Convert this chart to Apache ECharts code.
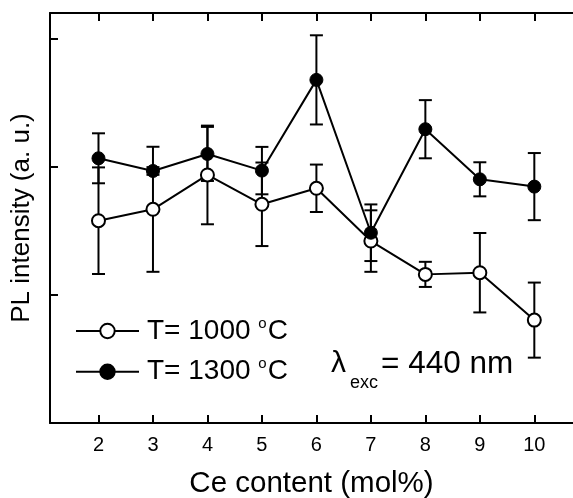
<!DOCTYPE html>
<html>
<head>
<meta charset="utf-8">
<script src="https://cdn.jsdelivr.net/npm/echarts@6/dist/echarts.min.js"></script>
<style>
html,body{margin:0;padding:0;background:#fff;}
#chart{width:573px;height:498px;}
</style>
</head>
<body>
<div id="chart"></div>
<script>
const ceContent = [2, 3, 4, 5, 6, 7, 8, 9, 10];
const xTickValues = [2, 3, 4, 5, 6, 7, 8, 9, 10];
const yTickValues = [0, 1, 2, 3];
const seriesNames = ['T= 1000 °C', 'T= 1300 °C'];
const pl1000 = [1.579, 1.668, 1.936, 1.707, 1.832, 1.420, 1.160, 1.173, 0.803];
const pl1000Err = [0.416, 0.488, 0.385, 0.326, 0.185, 0.240, 0.098, 0.310, 0.293];
const pl1300 = [2.066, 1.967, 2.100, 1.970, 2.678, 1.485, 2.293, 1.902, 1.845];
const pl1300Err = [0.195, 0.03, 0.211, 0.185, 0.348, 0.221, 0.227, 0.133, 0.262];

const FONT = '"Liberation Sans", Arial, sans-serif';

function pairs(xs, ys) { return xs.map((x, i) => [x, ys[i]]); }
function errData(xs, ys, es) { return xs.map((x, i) => [x, ys[i] - es[i], ys[i] + es[i]]); }

function renderErr(params, api) {
  const x = api.value(0), lo = api.value(1), hi = api.value(2);
  const pt = api.coord([x, hi]);
  const pb = api.coord([x, lo]);
  const hw = 6.5;
  const st = { stroke: '#000', lineWidth: 2 };
  return {
    type: 'group',
    children: [
      { type: 'line', shape: { x1: pt[0], y1: pt[1], x2: pb[0], y2: pb[1] }, style: st },
      { type: 'line', shape: { x1: pt[0] - hw, y1: pt[1], x2: pt[0] + hw, y2: pt[1] }, style: st },
      { type: 'line', shape: { x1: pb[0] - hw, y1: pb[1], x2: pb[0] + hw, y2: pb[1] }, style: st }
    ]
  };
}

const chart = echarts.init(document.getElementById('chart'), null, { renderer: 'canvas' });

const xCommon = {
  type: 'value',
  min: 1.11,
  max: 10.71,
  splitLine: { show: false },
  axisLine: { show: true, lineStyle: { color: '#000', width: 2 } }
};

chart.setOption({
  animation: false,
  backgroundColor: '#fff',
  grid: { left: 50, right: 0, top: 13, bottom: 75, containLabel: false, outerBoundsMode: 'none' },
  xAxis: [
    Object.assign({}, xCommon, {
      position: 'bottom',
      name: 'Ce content (mol%)',
      nameLocation: 'middle',
      nameGap: 46,
      nameTextStyle: { fontFamily: FONT, fontSize: 29.5, color: '#000' },
      axisTick: { show: true, inside: true, length: 8, customValues: xTickValues, lineStyle: { color: '#000', width: 2 } },
      axisLabel: { show: true, customValues: xTickValues, margin: 12, fontFamily: FONT, fontSize: 20, color: '#000' }
    }),
    Object.assign({}, xCommon, {
      position: 'top',
      axisTick: { show: true, inside: true, length: 8, customValues: xTickValues, lineStyle: { color: '#000', width: 2 } },
      axisLabel: { show: false }
    })
  ],
  yAxis: {
    type: 'value',
    min: 0,
    max: 3.2,
    splitLine: { show: false },
    axisLine: { show: true, lineStyle: { color: '#000', width: 2 } },
    axisTick: { show: true, inside: true, length: 8, customValues: yTickValues, lineStyle: { color: '#000', width: 2 } },
    axisLabel: { show: false },
    name: 'PL intensity (a. u.)',
    nameLocation: 'middle',
    nameGap: 15,
    nameTextStyle: { fontFamily: FONT, fontSize: 26, color: '#000' }
  },
  legend: {
    data: seriesNames,
    orient: 'vertical',
    left: 75,
    top: 316,
    padding: 0,
    itemWidth: 63,
    itemHeight: 18,
    itemGap: 11.7,
    selectedMode: false,
    formatter: function (name) {
      const parts = name.split('°');
      return '{a|' + parts[0] + '}{s|o}{a|' + parts[1] + '}';
    },
    textStyle: {
      fontFamily: FONT,
      color: '#000',
      padding: [0, 0, 0, 3],
      rich: {
        a: { fontFamily: FONT, fontSize: 28, lineHeight: 30, color: '#000' },
        s: { fontFamily: FONT, fontSize: 15, lineHeight: 30, color: '#000', verticalAlign: 'top', padding: [0, 1, 12, 0] }
      }
    }
  },
  graphic: [
    { type: 'text', left: 331, top: 349, style: { text: 'λ', font: '30px "Liberation Sans", Arial, sans-serif', fill: '#000' } },
    { type: 'text', left: 350, top: 374, style: { text: 'exc', font: '18px "Liberation Sans", Arial, sans-serif', fill: '#000' } },
    { type: 'text', left: 381, top: 348, style: { text: '= 440 nm', font: '31.5px "Liberation Sans", Arial, sans-serif', fill: '#000' } }
  ],
  series: [
    {
      type: 'custom',
      name: 'err1000',
      renderItem: renderErr,
      data: errData(ceContent, pl1000, pl1000Err),
      encode: { x: 0, y: [1, 2] },
      z: 1,
      silent: true
    },
    {
      type: 'custom',
      name: 'err1300',
      renderItem: renderErr,
      data: errData(ceContent, pl1300, pl1300Err),
      encode: { x: 0, y: [1, 2] },
      z: 1,
      silent: true
    },
    {
      type: 'line',
      name: seriesNames[0],
      data: pairs(ceContent, pl1000),
      symbol: 'circle',
      symbolSize: 13,
      showAllSymbol: true,
      lineStyle: { color: '#000', width: 2 },
      itemStyle: { color: '#fff', borderColor: '#000', borderWidth: 2 },
      emphasis: { disabled: true },
      z: 3
    },
    {
      type: 'line',
      name: seriesNames[1],
      data: pairs(ceContent, pl1300),
      symbol: 'circle',
      symbolSize: 13,
      showAllSymbol: true,
      lineStyle: { color: '#000', width: 2 },
      itemStyle: { color: '#000', borderColor: '#000', borderWidth: 1 },
      emphasis: { disabled: true },
      z: 4
    }
  ]
});
</script>
</body>
</html>
